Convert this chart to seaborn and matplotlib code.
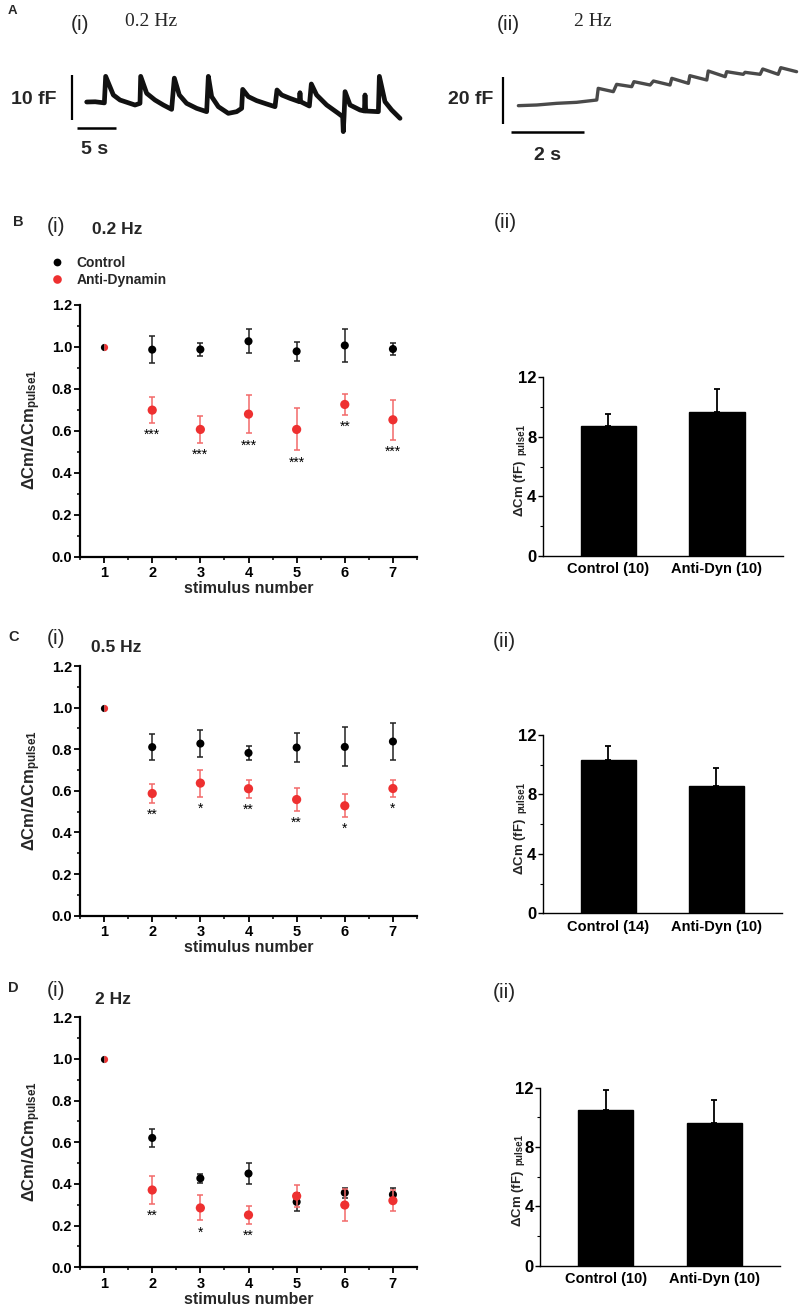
import matplotlib
matplotlib.use("Agg")
import matplotlib.pyplot as plt
from matplotlib.lines import Line2D
from matplotlib.ticker import MultipleLocator
import seaborn as sns
import pandas as pd

# ---------------- data ----------------
# Panel A traces (time in s, capacitance in fF)
a1_t = [0.09, 1.2, 2.39,
        2.56, 3.56, 4.43, 6.38, 7.03,
        7.12, 7.9, 8.98, 10.07, 11.15,
        11.5, 12.15, 13.1, 14.41, 15.71,
        15.93, 16.36, 17.23, 18.53, 19.62, 20.27,
        20.4, 21.14, 22.22, 23.52, 24.61,
        24.87, 25.48, 26.56, 27.78, 27.86, 27.95, 29.08,
        29.34, 30.03, 31.34, 32.85, 33.42, 33.5, 33.6,
        33.73, 34.38, 35.68, 36.25, 36.33, 36.42, 38.07,
        38.2, 38.93, 39.8, 40.89]
a1_v = [4.0, 4.05, 3.8,
        9.7, 5.56, 4.44, 3.33, 3.7,
        9.7, 5.93, 4.44, 3.33, 2.37,
        9.3, 5.56, 3.7, 2.59, 1.85,
        9.7, 5.19, 2.96, 1.48, 1.85, 2.59,
        6.81, 5.19, 4.3, 3.56, 2.96,
        6.67, 5.56, 4.81, 4.07, 6.07, 4.07, 3.11,
        8.0, 5.56, 3.33, 1.48, 0.74, -2.59, 0.74,
        6.3, 3.33, 2.22, 2.0, 5.56, 2.0, 1.85,
        9.7, 4.07, 2.22, 0.37]

a2_t = [0.01, 0.51, 1.05, 1.59, 2.14, 2.18, 2.59, 2.68, 3.09, 3.15, 3.59, 3.68,
        4.13, 4.18, 4.63, 4.67, 5.13, 5.17, 5.63, 5.67, 6.12, 6.17, 6.58, 6.65,
        7.07, 7.14, 7.57]
a2_v = [7.83, 8.11, 8.81, 9.23, 10.21, 15.11, 13.71, 16.79, 15.81, 17.91, 16.51, 18.19,
        16.51, 19.31, 17.21, 20.43, 18.61, 22.39, 20.01, 22.11, 21.0, 21.84, 21.0, 23.24,
        21.0, 23.79, 22.11]

scale_a1_fF, scale_a1_s = 10, 5
scale_a2_fF, scale_a2_s = 20, 2

# Panels B-D (i): normalised dCm per stimulus
stim = [1, 2, 3, 4, 5, 6, 7]
b_ctrl = [1.0, 0.986, 0.987, 1.026, 0.978, 1.006, 0.989]
b_ctrl_err = [0, 0.063, 0.031, 0.058, 0.046, 0.080, 0.030]
b_anti = [1.0, 0.698, 0.606, 0.679, 0.606, 0.725, 0.652]
b_anti_err = [0, 0.062, 0.066, 0.092, 0.100, 0.048, 0.094]
b_stars = ['', '***', '***', '***', '***', '**', '***']

c_ctrl = [1.0, 0.810, 0.827, 0.782, 0.808, 0.811, 0.837]
c_ctrl_err = [0, 0.062, 0.064, 0.035, 0.070, 0.094, 0.087]
c_anti = [1.0, 0.587, 0.637, 0.610, 0.558, 0.528, 0.611]
c_anti_err = [0, 0.047, 0.065, 0.043, 0.055, 0.055, 0.039]
c_stars = ['', '**', '*', '**', '**', '*', '*']

d_ctrl = [1.0, 0.621, 0.427, 0.450, 0.314, 0.358, 0.349]
d_ctrl_err = [0, 0.043, 0.020, 0.052, 0.045, 0.024, 0.030]
d_anti = [1.0, 0.371, 0.285, 0.251, 0.342, 0.299, 0.320]
d_anti_err = [0, 0.067, 0.060, 0.044, 0.052, 0.078, 0.050]
d_stars = ['', '**', '*', '**', '', '', '']

# Panels B-D (ii): first pulse dCm (fF)
b_groups = ['Control (10)', 'Anti-Dyn (10)']
b_bar = [8.74, 9.65]
b_bar_err = [0.81, 1.58]
c_groups = ['Control (14)', 'Anti-Dyn (10)']
c_bar = [10.32, 8.55]
c_bar_err = [0.92, 1.25]
d_groups = ['Control (10)', 'Anti-Dyn (10)']
d_bar = [10.52, 9.64]
d_bar_err = [1.35, 1.53]

# ---------------- style ----------------
sns.set_theme(style="ticks")
plt.rcParams['font.family'] = ['Liberation Sans', 'DejaVu Sans']
plt.rcParams['mathtext.fontset'] = 'custom'
plt.rcParams['mathtext.rm'] = 'Liberation Sans'
plt.rcParams['mathtext.bf'] = 'Liberation Sans:bold'
plt.rcParams['axes.facecolor'] = 'white'
plt.rcParams['figure.facecolor'] = 'white'

RED = '#EE3030'
RED_ERR = '#F26A6A'
W, H = 800, 1308
fig = plt.figure(figsize=(W / 100, H / 100), dpi=100)


def px_axes(l, t, r, b):
    return fig.add_axes([l / W, 1 - b / H, (r - l) / W, (b - t) / H])


def ftext(x, y, s, **kw):
    return fig.text(x / W, 1 - y / H, s, **kw)


# ---------------- Panel A ----------------
ax = px_axes(60, 65, 410, 165)
ax.set_xlim((60 - 86) / 7.68, (410 - 86) / 7.68)
ax.set_ylim((120 - 165) / 4.5, (120 - 65) / 4.5)
sns.lineplot(x=a1_t, y=a1_v, ax=ax, color='#111111', lw=3.4, sort=False,
             estimator=None, solid_joinstyle='round')
t0 = (71.7 - 86) / 7.68
ax.plot([t0, t0], [0, scale_a1_fF], color='black', lw=1.6, solid_capstyle='butt')
hb = (77.3 - 86) / 7.68
ax.plot([hb, hb + scale_a1_s], [-1.84, -1.84], color='black', lw=1.8, solid_capstyle='butt')
ax.axis('off')

ax = px_axes(495, 55, 800, 165)
ax.set_xlim((495 - 518) / 36.8, (800 - 518) / 36.8)
ax.set_ylim((124.3 - 165) / 2.38, (124.3 - 55) / 2.38)
sns.lineplot(x=a2_t, y=a2_v, ax=ax, color='#4a4a4a', lw=2.4, sort=False,
             estimator=None, solid_joinstyle='round')
t0 = (502.7 - 518) / 36.8
ax.plot([t0, t0], [0, scale_a2_fF], color='black', lw=1.6, solid_capstyle='butt')
hb = (510.7 - 518) / 36.8
ax.plot([hb, hb + scale_a2_s], [-3.36, -3.36], color='black', lw=1.8, solid_capstyle='butt')
ax.axis('off')

ftext(12, 11, 'A', fontsize=9.5, fontweight='bold', ha='center', va='center')
ftext(71, 24, '(i)', fontsize=15, ha='left', va='center')
ftext(125, 22, '0.2 Hz', fontsize=14, family='Liberation Serif', ha='left', va='center')
ftext(497, 24, '(ii)', fontsize=15, ha='left', va='center')
ftext(574, 22, '2 Hz', fontsize=14, family='Liberation Serif', ha='left', va='center')
ftext(57, 100, '10 fF', fontsize=14, fontweight='bold', ha='right', va='center')
ftext(95, 150, '5 s', fontsize=14, fontweight='bold', ha='center', va='center')
ftext(493, 100, '20 fF', fontsize=14, fontweight='bold', ha='right', va='center')
ftext(547, 155, '2 s', fontsize=14, fontweight='bold', ha='center', va='center')


# ---------------- scatter panels ----------------
def scatter_panel(box, ctrl, ctrl_err, anti, anti_err, stars, ylab_y):
    ax = px_axes(*box)
    x2 = stim[1:]
    ax.errorbar(x2, ctrl[1:], yerr=ctrl_err[1:], fmt='none', ecolor='#222222',
                elinewidth=1.1, capsize=1.9, capthick=1.1, zorder=2)
    sns.scatterplot(x=x2, y=ctrl[1:], color='black', s=34, edgecolor='none',
                    ax=ax, zorder=3, legend=False)
    ax.errorbar(x2, anti[1:], yerr=anti_err[1:], fmt='none', ecolor=RED_ERR,
                elinewidth=1.1, capsize=1.9, capthick=1.1, zorder=4)
    sns.scatterplot(x=x2, y=anti[1:], color=RED, s=44, edgecolor='none',
                    ax=ax, zorder=5, legend=False)
    ax.plot([stim[0]], [ctrl[0]], marker='o', ms=5.2, fillstyle='left',
            markerfacecolor='black', markerfacecoloralt=RED,
            markeredgecolor='none', ls='none', zorder=6)
    for xi, m, e, s in zip(stim, anti, anti_err, stars):
        if s:
            ax.annotate(s, xy=(xi, m - e), xytext=(0, -11.5), textcoords='offset points',
                        ha='center', va='baseline', fontsize=10, color='black')
    ax.set_xlim(0.5, 7.5)
    ax.set_ylim(0, 1.2)
    ax.set_xticks(stim)
    ax.set_yticks([0.0, 0.2, 0.4, 0.6, 0.8, 1.0, 1.2])
    ax.set_yticklabels(['0.0', '0.2', '0.4', '0.6', '0.8', '1.0', '1.2'])
    ax.xaxis.set_minor_locator(MultipleLocator(0.5))
    ax.yaxis.set_minor_locator(MultipleLocator(0.1))
    for sp in ['top', 'right']:
        ax.spines[sp].set_visible(False)
    for sp in ['left', 'bottom']:
        ax.spines[sp].set_linewidth(1.6)
        ax.spines[sp].set_color('black')
    ax.tick_params(which='major', direction='out', length=4.5, width=1.3,
                   labelsize=10.5, pad=2.5, colors='black')
    ax.tick_params(which='minor', direction='out', length=2.4, width=1.1, colors='black')
    ax.tick_params(axis='y', which='major', pad=1.2)
    for lab in ax.get_xticklabels() + ax.get_yticklabels():
        lab.set_fontweight('bold')
    ax.set_xlabel('stimulus number', fontsize=11.5, fontweight='bold', labelpad=0.5)
    ax.set_ylabel('')
    ax.grid(False)
    ftext(32, ylab_y, r'$\mathbf{\Delta Cm/\Delta Cm_{pulse1}}$', fontsize=12,
          rotation=90, ha='center', va='center')
    return ax


def bar_panel(box, groups, vals, errs):
    ax = px_axes(*box)
    df = pd.DataFrame({'group': groups, 'val': vals})
    sns.barplot(data=df, x='group', y='val', color='black', saturation=1,
                width=0.51, errorbar=None, ax=ax, edgecolor='black')
    ax.errorbar([0, 1], vals, yerr=[[0, 0], errs], fmt='none', ecolor='black',
                elinewidth=1.3, capsize=2.0, capthick=1.3, zorder=5)
    ax.set_xlim(-0.606, 1.606)
    ax.set_ylim(0, 12)
    ax.set_yticks([0, 4, 8, 12])
    ax.yaxis.set_minor_locator(MultipleLocator(2))
    for sp in ['top', 'right']:
        ax.spines[sp].set_visible(False)
    for sp in ['left', 'bottom']:
        ax.spines[sp].set_linewidth(1.0)
        ax.spines[sp].set_color('black')
    ax.tick_params(axis='y', which='major', direction='out', length=3.5, width=1.0,
                   labelsize=12, pad=1.0, colors='black')
    ax.tick_params(axis='y', which='minor', direction='out', length=2, width=0.8, colors='black')
    ax.tick_params(axis='x', which='both', length=0, labelsize=10.5, pad=4.5, colors='black')
    for lab in ax.get_xticklabels() + ax.get_yticklabels():
        lab.set_fontweight('bold')
    ax.set_xlabel('')
    ax.set_ylabel('')
    ax.grid(False)
    return ax


# Panel B
scatter_panel((80, 304.7, 417, 556.7), b_ctrl, b_ctrl_err, b_anti, b_anti_err, b_stars, 430)
bar_panel((542.7, 377.3, 782.7, 555.7), b_groups, b_bar, b_bar_err)
ftext(13, 222, 'B', fontsize=10.5, fontweight='bold', ha='left', va='center')
ftext(47, 226, '(i)', fontsize=15, ha='left', va='center')
ftext(92, 230, '0.2 Hz', fontsize=12.5, fontweight='bold', ha='left', va='center')
ftext(494, 223, '(ii)', fontsize=15, ha='left', va='center')

handles = [Line2D([], [], marker='o', ls='none', color='black', ms=5.6, markeredgecolor='none'),
           Line2D([], [], marker='o', ls='none', color=RED, ms=6.2, markeredgecolor='none')]
fig.legend(handles, ['Control', 'Anti-Dynamin'], loc='upper left',
           bbox_to_anchor=(51.5 / W, 1 - 256 / H), frameon=False,
           handlelength=0.8, handletextpad=1.0, borderaxespad=0, borderpad=0,
           labelspacing=0.2, prop={'weight': 'bold', 'size': 10})

# Panel C
scatter_panel((80, 666, 417, 915.6), c_ctrl, c_ctrl_err, c_anti, c_anti_err, c_stars, 791)
bar_panel((542.7, 735, 782, 913.3), c_groups, c_bar, c_bar_err)
ftext(8, 637, 'C', fontsize=10.5, fontweight='bold', ha='left', va='center')
ftext(47, 639, '(i)', fontsize=15, ha='left', va='center')
ftext(90.7, 648, '0.5 Hz', fontsize=12.5, fontweight='bold', ha='left', va='center')
ftext(493, 641.7, '(ii)', fontsize=15, ha='left', va='center')

# Panel D
scatter_panel((80, 1017.3, 417, 1267.3), d_ctrl, d_ctrl_err, d_anti, d_anti_err, d_stars, 1142)
bar_panel((540, 1087.7, 780, 1265.7), d_groups, d_bar, d_bar_err)
ftext(8, 988, 'D', fontsize=10.5, fontweight='bold', ha='left', va='center')
ftext(47, 990, '(i)', fontsize=15, ha='left', va='center')
ftext(95, 999, '2 Hz', fontsize=12.5, fontweight='bold', ha='left', va='center')
ftext(493, 993, '(ii)', fontsize=15, ha='left', va='center')

# bar y-labels: main text + smaller 'pulse1' after a gap
renderer = fig.canvas.get_renderer()
for bottom_y, xlab in [(517, 520), (875, 520), (1227, 518)]:
    t = ftext(xlab, bottom_y, r'$\mathbf{\Delta}$' + 'Cm (fF)', fontsize=9.5, fontweight='bold',
              rotation=90, ha='center', va='bottom')
    ext = t.get_window_extent(renderer=renderer)
    top_px = H - ext.y1  # top of main text in pixel-from-top coords
    ftext(xlab + 1.5, top_px - 5, 'pulse1', fontsize=7, fontweight='bold',
          rotation=90, ha='center', va='bottom')

fig.savefig('out.png', dpi=100)
